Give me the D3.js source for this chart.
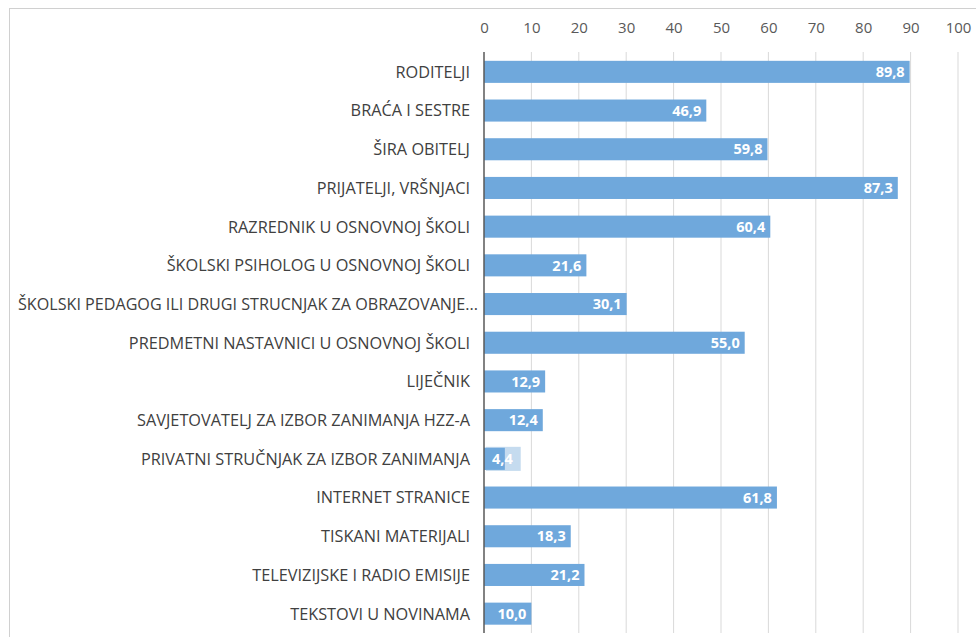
<!DOCTYPE html>
<html lang="hr">
<head>
<meta charset="utf-8">
<title>Izvori informacija</title>
<script src="https://d3js.org/d3.v7.min.js"></script>
<style>
  body { margin: 0; background: #fff; }
  svg text { font-family: "Open Sans", "Noto Sans", sans-serif; }
</style>
</head>
<body>
<div id="vis"></div>
<script>
// Data
var categories = [
    "RODITELJI",
    "BRAĆA I SESTRE",
    "ŠIRA OBITELJ",
    "PRIJATELJI, VRŠNJACI",
    "RAZREDNIK U OSNOVNOJ ŠKOLI",
    "ŠKOLSKI PSIHOLOG U OSNOVNOJ ŠKOLI",
    "ŠKOLSKI PEDAGOG ILI DRUGI STRUCNJAK ZA OBRAZOVANJE...",
    "PREDMETNI NASTAVNICI U OSNOVNOJ ŠKOLI",
    "LIJEČNIK",
    "SAVJETOVATELJ ZA IZBOR ZANIMANJA HZZ-A",
    "PRIVATNI STRUČNJAK ZA IZBOR ZANIMANJA",
    "INTERNET STRANICE",
    "TISKANI MATERIJALI",
    "TELEVIZIJSKE  I RADIO EMISIJE",
    "TEKSTOVI U NOVINAMA"
];
var values = [89.8, 46.9, 59.8, 87.3, 60.4, 21.6, 30.1, 55.0, 12.9, 12.4, 4.4, 61.8, 18.3, 21.2, 10.0];
var ticks = [0, 10, 20, 30, 40, 50, 60, 70, 80, 90, 100];

var width = 976, height = 637;
var bar_colour = "#6fa8dc";
var fmt = function(v) { return v.toFixed(1).replace(".", ","); };

var svg = d3.select("#vis").append("svg")
    .attr("width", width)
    .attr("height", height);

// chart frame (cut off on the right)
svg.append("rect")
    .attr("x", 9.5).attr("y", 8.5)
    .attr("width", 1000).attr("height", 700)
    .attr("fill", "none")
    .attr("stroke", "#d0d0d0");

var x = d3.scaleLinear().domain([0, 100]).range([484, 958]);
var y = d3.scaleBand().domain(categories).range([52.5, 633]).paddingInner(0.43).paddingOuter(0.215);

// gridlines
svg.append("g").selectAll("line")
    .data(ticks.slice(1))
    .enter().append("line")
    .attr("x1", function(d) { return x(d); })
    .attr("x2", function(d) { return x(d); })
    .attr("y1", 52).attr("y2", 633)
    .attr("stroke", "#d9d9d9")
    .attr("stroke-width", 1);

// top axis labels
var xAxis = svg.append("g")
    .attr("transform", "translate(0,33)")
    .call(d3.axisTop(x).tickValues(ticks).tickSize(0).tickPadding(0));
xAxis.select(".domain").remove();
xAxis.selectAll("text")
    .attr("fill", "#595959")
    .style("font-size", "15px")
    .style("font-family", "'Open Sans', sans-serif");

// bars
svg.append("g").selectAll("rect")
    .data(values)
    .enter().append("rect")
    .attr("x", x(0))
    .attr("y", function(d, i) { return y(categories[i]); })
    .attr("width", function(d) { return x(d) - x(0); })
    .attr("height", y.bandwidth())
    .attr("fill", bar_colour);

// value labels (inside end)
var labels = svg.append("g").selectAll("g")
    .data(values)
    .enter().append("g");

labels.each(function(d, i) {
    var g = d3.select(this);
    var cy = y(categories[i]) + y.bandwidth() / 2;
    var t = g.append("text")
        .attr("x", x(d) - 5)
        .attr("y", cy)
        .attr("dy", "0.36em")
        .attr("text-anchor", "end")
        .attr("fill", "#ffffff")
        .style("font-size", "14.5px")
        .style("font-weight", "bold")
        .text(fmt(d));
    var w = t.node().getComputedTextLength();
    if (w + 10 > x(d) - x(0)) {
        // label wider than bar: shown on a light box
        g.insert("rect", "text")
            .attr("x", x(0) + 2)
            .attr("y", y(categories[i]) - 1)
            .attr("width", w + 14)
            .attr("height", y.bandwidth() + 2)
            .attr("fill", "#c5dbef");
        g.insert("rect", "text")
            .attr("x", x(0))
            .attr("y", y(categories[i]))
            .attr("width", x(d) - x(0))
            .attr("height", y.bandwidth())
            .attr("fill", bar_colour);
        t.attr("x", x(0) + 8).attr("text-anchor", "start");
    }
});

// category labels
svg.append("g").selectAll("text")
    .data(categories)
    .enter().append("text")
    .attr("x", 470)
    .attr("y", function(d) { return y(d) + y.bandwidth() / 2; })
    .attr("dy", "0.36em")
    .attr("text-anchor", "end")
    .attr("fill", "#404040")
    .style("font-size", "16.3px")
    .text(function(d) { return d; })
    .each(function() {
        // truncated label fills the whole space left of the axis
        var w = this.getComputedTextLength();
        if (w > 440) d3.select(this).attr("x", 478).attr("textLength", 460).attr("lengthAdjust", "spacingAndGlyphs");
    });

// vertical axis line
svg.append("line")
    .attr("x1", x(0)).attr("x2", x(0))
    .attr("y1", 52).attr("y2", 633)
    .attr("stroke", "#595959")
    .attr("stroke-width", 1.5);
</script>
</body>
</html>
